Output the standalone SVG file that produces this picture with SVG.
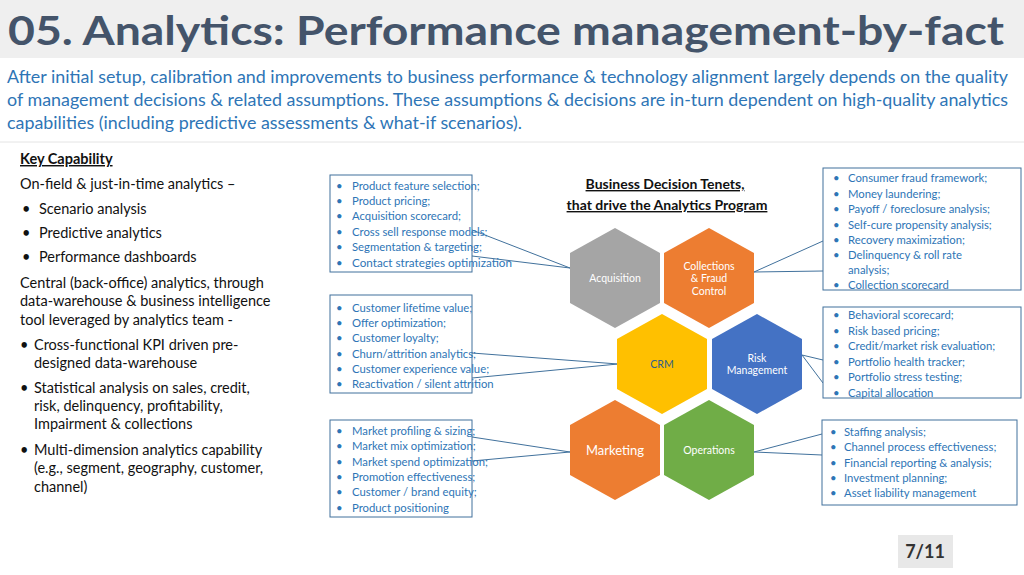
<svg xmlns="http://www.w3.org/2000/svg" width="1024" height="575" viewBox="0 0 1024 575">
<defs><style>
text{font-family:Lato,"Open Sans","Liberation Sans",sans-serif}
.box{fill:#fff;stroke:#41719c;stroke-width:1}
.it{font-size:11.3px;fill:#2e75b6}
.lt{font-size:14.5px;fill:#111}
.hx{font-size:10.5px;fill:#fff;text-anchor:middle}
.con{stroke:#41719c;stroke-width:1;fill:none}
</style></defs>
<rect width="1024" height="575" fill="#fff"/>
<rect x="0" y="0" width="1024" height="58" fill="#efefef"/>
<text x="8" y="45" font-size="41" font-weight="bold" fill="#44546a" textLength="996" lengthAdjust="spacingAndGlyphs">05. Analytics: Performance management-by-fact</text>
<g font-size="16.3" fill="#2e75b6">
<text x="7" y="83" textLength="1001" lengthAdjust="spacingAndGlyphs">After initial setup, calibration and improvements to business performance &amp; technology alignment largely depends on the quality</text>
<text x="7" y="106" textLength="1001" lengthAdjust="spacingAndGlyphs">of management decisions &amp; related assumptions. These assumptions &amp; decisions are in-turn dependent on high-quality analytics</text>
<text x="7" y="129" textLength="515" lengthAdjust="spacingAndGlyphs">capabilities (including predictive assessments &amp; what-if scenarios).</text>
</g>
<line x1="0" y1="142" x2="1024" y2="142" stroke="#e4e4e4"/>
<g id="left-text" class="lt">
<text x="20" y="164" class="lt" font-weight="bold" text-decoration="underline">Key Capability</text>
<text x="20" y="189" class="lt">On-field &amp; just-in-time analytics –</text>
<text x="22" y="214" class="lt">•</text><text x="39" y="214" class="lt">Scenario analysis</text>
<text x="22" y="238" class="lt">•</text><text x="39" y="238" class="lt">Predictive analytics</text>
<text x="22" y="262" class="lt">•</text><text x="39" y="262" class="lt">Performance dashboards</text>
<text x="20" y="288" class="lt">Central (back-office) analytics, through</text>
<text x="20" y="306" class="lt">data-warehouse &amp; business intelligence</text>
<text x="20" y="325" class="lt">tool leveraged by analytics team -</text>
<text x="20" y="350" class="lt">•</text><text x="34" y="350" class="lt">Cross-functional KPI driven pre-</text>
<text x="34" y="368" class="lt">designed data-warehouse</text>
<text x="20" y="393" class="lt">•</text><text x="34" y="393" class="lt">Statistical analysis on sales, credit,</text>
<text x="34" y="411" class="lt">risk, delinquency, profitability,</text>
<text x="34" y="429" class="lt">Impairment &amp; collections</text>
<text x="20" y="455" class="lt">•</text><text x="34" y="455" class="lt">Multi-dimension analytics capability</text>
<text x="34" y="473" class="lt">(e.g., segment, geography, customer,</text>
<text x="34" y="492" class="lt">channel)</text>
</g>
<g id="center-title" font-size="14" font-weight="bold" fill="#111" text-anchor="middle" text-decoration="underline">
<text x="665" y="189">Business Decision Tenets, </text>
<text x="667" y="210">that drive the Analytics Program</text>
</g>
<g id="connectors" class="con">
<polyline class="con" points="472,230 570,268 472,256"/>
<polyline class="con" points="472,353 618,364 472,378"/>
<polyline class="con" points="472,437 570,452 472,461"/>
<polyline class="con" points="823,241 754,272 823,271"/>
<polyline class="con" points="823,360 802,355 823,383"/>
<polyline class="con" points="822,434 754,452 822,455"/>
</g>
<g id="acquisition"><polygon points="615,228 660,253 660,303 615,328 570,303 570,253" fill="#a5a5a5"/><text class="hx" x="615" y="282">Acquisition</text></g>
<g id="collections"><polygon points="709,228 754,253 754,303 709,328 664,303 664,253" fill="#ed7d31"/><text class="hx" x="709" y="270">Collections</text><text class="hx" x="709" y="282">&amp; Fraud</text><text class="hx" x="709" y="295">Control</text></g>
<g id="crm"><polygon points="662,314 707,339 707,389 662,414 617,389 617,339" fill="#ffc000"/><text class="hx" x="662" y="368" style="fill:#2e5e8e">CRM</text></g>
<g id="risk"><polygon points="757,314 802,339 802,389 757,414 712,389 712,339" fill="#4472c4"/><text class="hx" x="757" y="362">Risk</text><text class="hx" x="757" y="374">Management</text></g>
<g id="marketing"><polygon points="615,400 660,425 660,475 615,500 570,475 570,425" fill="#ed7d31"/><text class="hx" x="615" y="455" style="font-size:13px">Marketing</text></g>
<g id="operations"><polygon points="709,400 754,425 754,475 709,500 664,475 664,425" fill="#70ad47"/><text class="hx" x="709" y="454">Operations</text></g>
<g id="box-acq"><rect class="box" x="330" y="175" width="142" height="97"/>
<g class="it"><text x="336" y="190">•</text><text x="352" y="190">Product feature selection;</text>
<text x="336" y="205">•</text><text x="352" y="205">Product pricing;</text>
<text x="336" y="220">•</text><text x="352" y="220">Acquisition scorecard;</text>
<text x="336" y="236">•</text><text x="352" y="236">Cross sell response models;</text>
<text x="336" y="251">•</text><text x="352" y="251">Segmentation &amp; targeting;</text>
<text x="336" y="267">•</text><text x="352" y="267" textLength="160" lengthAdjust="spacingAndGlyphs">Contact strategies optimization</text></g></g>
<g id="box-crm"><rect class="box" x="330" y="295" width="142" height="98"/>
<g class="it"><text x="336" y="312">•</text><text x="352" y="312">Customer lifetime value;</text>
<text x="336" y="327">•</text><text x="352" y="327">Offer optimization;</text>
<text x="336" y="342">•</text><text x="352" y="342">Customer loyalty;</text>
<text x="336" y="358">•</text><text x="352" y="358">Churn/attrition analytics;</text>
<text x="336" y="373">•</text><text x="352" y="373">Customer experience value;</text>
<text x="336" y="388">•</text><text x="352" y="388">Reactivation / silent attrition</text></g></g>
<g id="box-mkt"><rect class="box" x="330" y="420" width="142" height="97"/>
<g class="it"><text x="336" y="435">•</text><text x="352" y="435">Market profiling &amp; sizing;</text>
<text x="336" y="450">•</text><text x="352" y="450">Market mix optimization;</text>
<text x="336" y="466">•</text><text x="352" y="466">Market spend optimization;</text>
<text x="336" y="481">•</text><text x="352" y="481">Promotion effectiveness;</text>
<text x="336" y="496">•</text><text x="352" y="496">Customer / brand equity;</text>
<text x="336" y="512">•</text><text x="352" y="512">Product positioning</text></g></g>
<g id="box-col"><rect class="box" x="823" y="168" width="198" height="122"/>
<g class="it"><text x="833" y="182">•</text><text x="848" y="182">Consumer fraud framework;</text>
<text x="833" y="198">•</text><text x="848" y="198">Money laundering;</text>
<text x="833" y="213">•</text><text x="848" y="213">Payoff / foreclosure analysis;</text>
<text x="833" y="229">•</text><text x="848" y="229">Self-cure propensity analysis;</text>
<text x="833" y="244">•</text><text x="848" y="244">Recovery maximization;</text>
<text x="833" y="259">•</text><text x="848" y="259">Delinquency &amp; roll rate</text>
<text x="848" y="274">analysis;</text>
<text x="833" y="289">•</text><text x="848" y="289">Collection scorecard</text></g></g>
<g id="box-risk"><rect class="box" x="823" y="307" width="198" height="91"/>
<g class="it"><text x="833" y="319">•</text><text x="848" y="319">Behavioral scorecard;</text>
<text x="833" y="335">•</text><text x="848" y="335">Risk based pricing;</text>
<text x="833" y="350">•</text><text x="848" y="350">Credit/market risk evaluation;</text>
<text x="833" y="366">•</text><text x="848" y="366">Portfolio health tracker;</text>
<text x="833" y="381">•</text><text x="848" y="381">Portfolio stress testing;</text>
<text x="833" y="397">•</text><text x="848" y="397">Capital allocation</text></g></g>
<g id="box-ops"><rect class="box" x="822" y="420" width="195" height="85"/>
<g class="it"><text x="830" y="436">•</text><text x="844" y="436">Staffing analysis;</text>
<text x="830" y="451">•</text><text x="844" y="451">Channel process effectiveness;</text>
<text x="830" y="467">•</text><text x="844" y="467">Financial reporting &amp; analysis;</text>
<text x="830" y="482">•</text><text x="844" y="482">Investment planning;</text>
<text x="830" y="497">•</text><text x="844" y="497">Asset liability management</text></g></g>
<g id="page"><rect x="898" y="535" width="55" height="33" fill="#e8e8e8"/><text x="925" y="558" font-size="18" font-weight="bold" fill="#333" text-anchor="middle">7/11</text></g>
</svg>
